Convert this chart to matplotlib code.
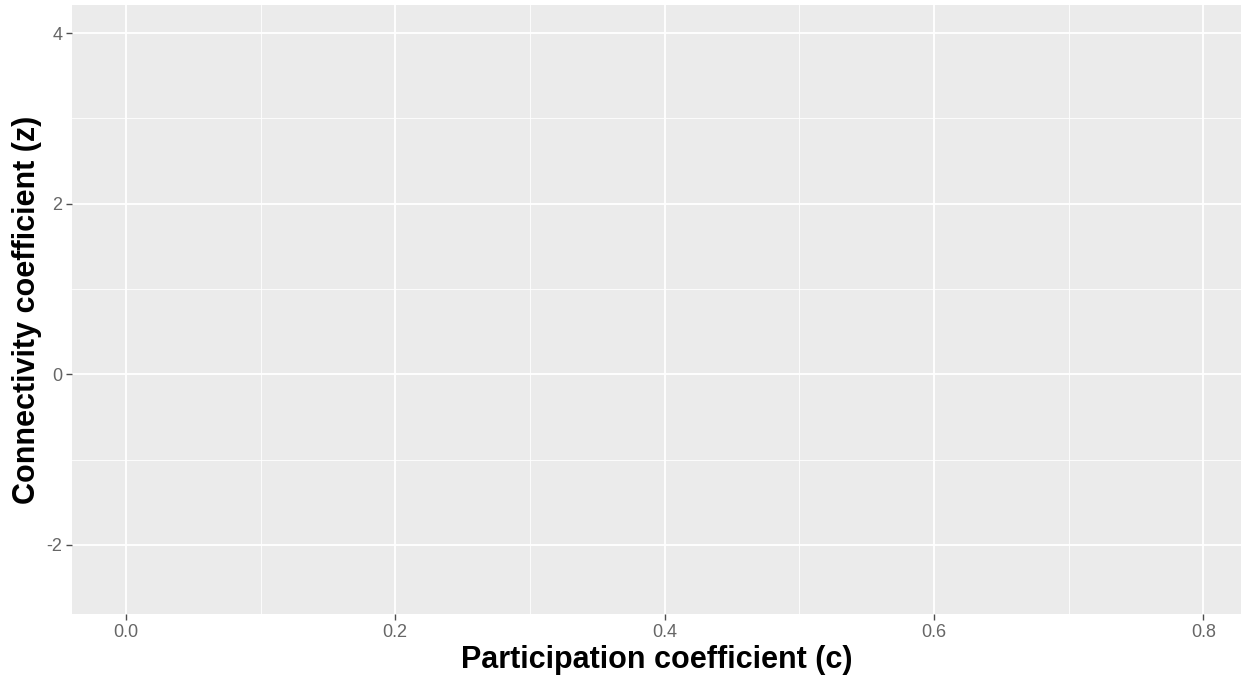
import numpy as np
import matplotlib
matplotlib.use("Agg")
import matplotlib.pyplot as plt

plt.rcParams['font.family'] = ['Liberation Sans', 'DejaVu Sans']

# Оси (пустая панель)
x_ticks = [0.0, 0.2, 0.4, 0.6, 0.8]
x_tick_labels = ['0.0', '0.2', '0.4', '0.6', '0.8']
x_minor = [0.1, 0.3, 0.5, 0.7]
y_ticks = [-2, 0, 2, 4]
y_tick_labels = ['-2', '0', '2', '4']
y_minor = [-1, 1, 3]
x_lim = (-0.040, 0.828)
y_lim = (-2.81, 4.33)

fig = plt.figure(figsize=(12.41, 6.84), dpi=100)
ax = fig.add_axes([72/1241, 70/684, 1 - 72/1241, 609/684])
ax.set_facecolor('#EBEBEB')

ax.set_xlim(*x_lim)
ax.set_ylim(*y_lim)
ax.set_xticks(x_ticks)
ax.set_xticklabels(x_tick_labels)
ax.set_yticks(y_ticks)
ax.set_yticklabels(y_tick_labels)
ax.set_xticks(x_minor, minor=True)
ax.set_yticks(y_minor, minor=True)

ax.grid(True, which='major', color='white', linewidth=1.3)
ax.grid(True, which='minor', color='white', linewidth=0.6)
ax.set_axisbelow(True)

for s in ax.spines.values():
    s.set_visible(False)

ax.tick_params(which='major', length=4, width=1, color='#4D4D4D',
               labelcolor='#666666', labelsize=13, pad=3)
ax.tick_params(which='minor', length=0)

ax.set_xlabel('Participation coefficient (c)', fontsize=22, fontweight='bold', labelpad=3)
ax.set_ylabel('Connectivity coefficient (z)', fontsize=22, fontweight='bold', labelpad=3)

fig.savefig('out.png', dpi=100)
